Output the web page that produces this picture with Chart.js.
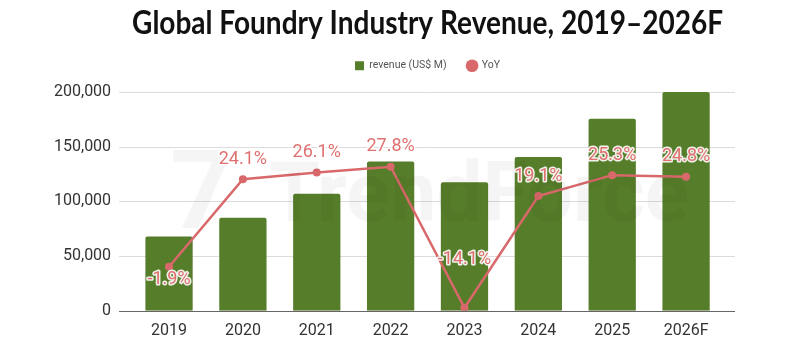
<!DOCTYPE html>
<html>
<head>
<meta charset="utf-8">
<script src="https://cdn.jsdelivr.net/npm/chart.js@4"></script>
<style>
  html, body { margin: 0; padding: 0; background: #fff; }
  #wrap { width: 800px; height: 353px; }
</style>
</head>
<body>
<div id="wrap"><canvas id="foundryChart" width="800" height="353"></canvas></div>
<script>
const years = ["2019", "2020", "2021", "2022", "2023", "2024", "2025", "2026F"];
const revenue = [68000, 85000, 107000, 136500, 117500, 140500, 175500, 200000]; // US$ M
const yoy = [-1.9, 24.1, 26.1, 27.8, -14.1, 19.1, 25.3, 24.8]; // %
const revenueTicks = [0, 50000, 100000, 150000, 200000];

const barGreen = "#567d2a";
const lineRed = "#d9686b";

// a little more room between the legend and the plot
const legendGap = {
  id: "legendGap",
  afterInit(chart) {
    const legend = chart.legend;
    const fit = legend.fit;
    legend.fit = function () {
      fit.call(this);
      this.height += 11;
    };
  },
};

// grid lines run a bit wider than the bar area, like the sheet chart
const wideGrid = {
  id: "wideGrid",
  beforeDatasetsDraw(chart) {
    const { ctx, chartArea, scales } = chart;
    ctx.save();
    revenueTicks.forEach((v) => {
      const y = Math.round(scales.y.getPixelForValue(v)) + 0.5;
      ctx.strokeStyle = v === 0 ? "#666" : "#dcdcdc";
      ctx.lineWidth = 1;
      ctx.beginPath();
      ctx.moveTo(chartArea.left - 13, y);
      ctx.lineTo(chartArea.right + 12, y);
      ctx.stroke();
    });
    ctx.restore();
  },
};

// faint TrendForce watermark
const watermark = {
  id: "watermark",
  afterDatasetsDraw(chart) {
    const { ctx, chartArea } = chart;
    const cy = chartArea.top + 108;
    ctx.save();
    ctx.fillStyle = "rgba(0,0,0,0.04)";
    ctx.textBaseline = "middle";
    ctx.font = "bold 84px Roboto";
    ctx.fillText("TrendForce", chartArea.left + 137, cy, 420);
    ctx.font = "bold 110px Roboto";
    ctx.fillText("7", chartArea.left + 38, cy, 80);
    ctx.restore();
  },
};

// YoY value labels
const yoyLabels = {
  id: "yoyLabels",
  afterDraw(chart) {
    const { ctx, chartArea } = chart;
    const meta = chart.getDatasetMeta(1);
    ctx.save();
    ctx.font = "18px Roboto";
    ctx.textAlign = "center";
    ctx.textBaseline = "middle";
    ctx.lineJoin = "round";
    meta.data.forEach((pt, i) => {
      const v = yoy[i];
      let y = pt.y - 20;
      if (v < 0) {
        y = pt.y + 22 < chartArea.bottom ? pt.y + 13 : pt.y - 48;
      }
      const txt = v.toFixed(1) + "%";
      ctx.strokeStyle = "rgba(255,255,255,0.9)";
      ctx.lineWidth = 3;
      ctx.strokeText(txt, pt.x, y);
      ctx.fillStyle = "#e0706f";
      ctx.fillText(txt, pt.x, y);
    });
    ctx.restore();
  },
};

new Chart(document.getElementById("foundryChart"), {
  data: {
    labels: years,
    datasets: [
      {
        type: "bar",
        label: "revenue (US$ M)",
        data: revenue,
        backgroundColor: barGreen,
        borderRadius: 2,
        barPercentage: 0.64,
        categoryPercentage: 1,
        yAxisID: "y",
        order: 1,
        pointStyle: "rect",
      },
      {
        type: "line",
        label: "YoY",
        data: yoy,
        borderColor: lineRed,
        backgroundColor: lineRed,
        borderWidth: 2.5,
        pointRadius: 4,
        pointBackgroundColor: lineRed,
        pointBorderWidth: 0,
        tension: 0,
        yAxisID: "y1",
        order: 0,
        pointStyle: "circle",
      },
    ],
  },
  options: {
    responsive: false,
    animation: false,
    layout: { padding: { top: 4, left: 33, right: 77, bottom: 9 } },
    plugins: {
      title: {
        display: true,
        fullSize: false,
        text: "Global Foundry Industry Revenue, 2019–2026F",
        color: "#111",
        font: { family: "Lato", size: 31.5, weight: "bold", lineHeight: 1 },
        padding: { top: 4, bottom: 0 },
      },
      legend: {
        display: true,
        fullSize: false,
        labels: {
          usePointStyle: true,
          boxWidth: 9,
          boxHeight: 9,
          color: "#555",
          font: { family: "Roboto", size: 10.5 },
          padding: 21,
          sort: (a, b) => a.datasetIndex - b.datasetIndex,
        },
      },
      tooltip: { enabled: false },
    },
    scales: {
      x: {
        grid: { display: false },
        border: { display: false },
        ticks: { color: "#333", font: { family: "Roboto", size: 16 }, padding: 3 },
      },
      y: {
        min: 0,
        max: 200000,
        afterBuildTicks: (axis) => { axis.ticks = revenueTicks.map((v) => ({ value: v })); },
        grid: { display: false, drawTicks: false },
        border: { display: false },
        ticks: {
          color: "#333",
          font: { family: "Roboto", size: 16 },
          padding: 21,
          callback: (value) => value.toLocaleString("en-US"),
        },
      },
      y1: {
        min: -15,
        max: 50,
        display: false,
      },
    },
  },
  plugins: [legendGap, wideGrid, watermark, yoyLabels],
});
</script>
</body>
</html>
